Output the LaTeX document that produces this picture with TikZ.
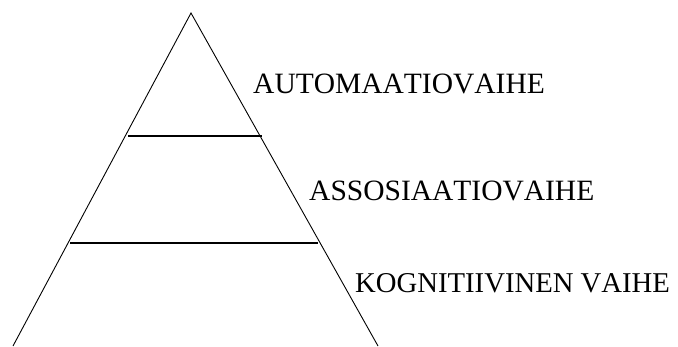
\documentclass[tikz,border=0pt]{standalone}
\usepackage{fontspec}
\setmainfont[Kerning=Off]{Liberation Serif}
\begin{document}
\begin{tikzpicture}[x=1pt,y=-1pt,
  edge/.style={line width=0.9pt,black},
  level/.style={line width=1.1pt,black},
  lbl/.style={anchor=base west,inner sep=0pt,font=\fontsize{29.5}{30}\selectfont}]
\useasboundingbox (0,0) rectangle (678,346);
\coordinate (apex) at (191,13);
\coordinate (bl) at (13,346);
\coordinate (br) at (378,346);
\draw[edge] (bl) -- (apex) -- (br);
\coordinate (u1) at (128,136);
\coordinate (u2) at (262,136);
\coordinate (l1) at (70,243);
\coordinate (l2) at (318,243);
\draw[level] (u1) -- (u2);
\draw[level] (l1) -- (l2);
\node[lbl] (auto) at (253,93) {AUTOMAATIOVAIHE};
\node[lbl] (asso) at (309,200) {ASSOSIAATIOVAIHE};
\node[lbl,font=\fontsize{28.7}{30}\selectfont] (kogn) at (355,292) {KOGNITIIVINEN\hspace{0.25em}VAIHE};
\end{tikzpicture}
\end{document}
